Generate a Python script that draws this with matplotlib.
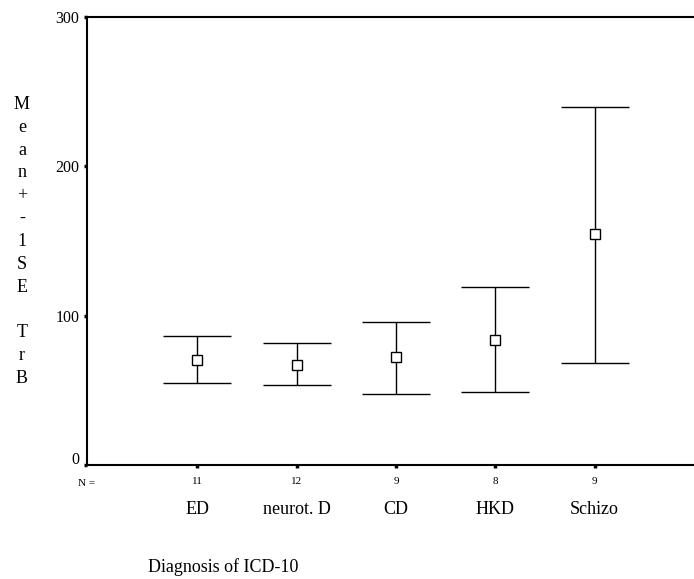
import matplotlib
matplotlib.use("Agg")
import matplotlib.pyplot as plt
import matplotlib.transforms as mtransforms
import numpy as np

categories = ["ED", "neurot. D", "CD", "HKD", "Schizo"]
counts = [11, 12, 9, 8, 9]
means = [70.3, 67.0, 72.3, 83.7, 154.5]
upper = [86.6, 81.7, 95.8, 119.2, 240.0]
lower = [54.9, 53.6, 47.5, 48.9, 68.1]
yticks = [0, 100, 200, 300]

plt.rcParams['font.family'] = ['Liberation Serif', 'DejaVu Serif']

fig = plt.figure(figsize=(6.94, 5.79), dpi=100)
ax = fig.add_axes([87/694, 1-465/579, 1-87/694, (465-17)/579])

x = np.arange(1, len(categories)+1)
m = np.array(means); up = np.array(upper); lo = np.array(lower)
ax.errorbar(x, m, yerr=[m-lo, up-m], fmt='s', mfc='white', mec='black',
            ms=7, mew=1.0, ecolor='black', elinewidth=1.0, capsize=24.5,
            capthick=1.0, color='black')

ax.set_xlim(-0.11, 6.0)
ax.set_ylim(0, 300)
ax.set_yticks(yticks)
ax.set_yticklabels([str(v) for v in yticks], fontsize=11.5)
ax.set_xticks(x)
ax.set_xticklabels([str(c) for c in counts], fontsize=8)
ax.tick_params(axis='both', direction='out', length=2.5, width=2.5, color='black')
ax.tick_params(axis='y', pad=3)
ax.tick_params(axis='x', pad=6)
for s in ['left', 'top', 'bottom']:
    ax.spines[s].set_linewidth(1.5)
ax.spines['right'].set_visible(False)

# shift the "0" tick label up a bit as in the reference
lbls = ax.get_yticklabels()
off = mtransforms.ScaledTranslation(0, 7/100, fig.dpi_scale_trans)
lbls[0].set_transform(lbls[0].get_transform() + off)

trans = mtransforms.blended_transform_factory(ax.transData, fig.transFigure)
for xi, name in zip(x, categories):
    ax.text(xi, 1-510/579, name, transform=trans, ha='center', va='center', fontsize=13)

fig.text(87/694, 1-484/579, "N =", ha='center', va='center', fontsize=8)
fig.text(148/694, 1-567/579, "Diagnosis of ICD-10", ha='left', va='center', fontsize=13)

ylab = "\n".join(list("Mean+-1SE")) + "\n \n" + "\n".join(list("TrB"))
fig.text(22/694, 1-241.5/579, ylab, ha='center', va='center', fontsize=13, linespacing=1.45)

fig.savefig("out.png", dpi=100)
